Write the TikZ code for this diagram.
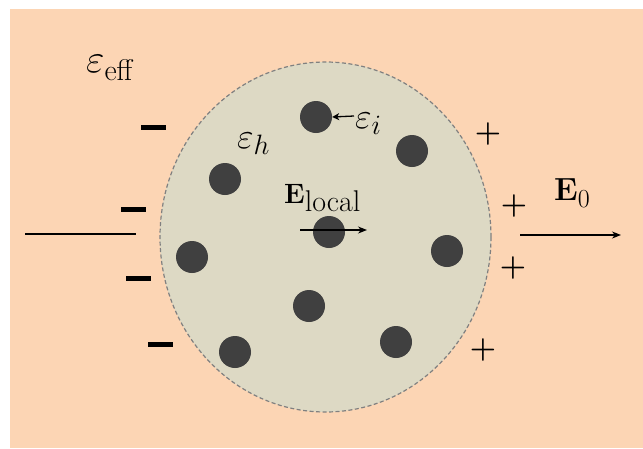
\RequirePackage{fix-cm}
\documentclass[tikz,border=0pt]{standalone}
\usetikzlibrary{arrows.meta}
\definecolor{peach}{HTML}{FCD5B4}
\definecolor{host}{HTML}{DDD9C4}
\definecolor{incl}{HTML}{404040}
\newcommand{\fsz}[1]{\fontsize{#1}{#1}\selectfont}
\begin{document}
\begin{tikzpicture}[x=1pt,y=-1pt,
  dot/.style={circle,fill=incl,minimum size=32pt,inner sep=0pt},
  minus/.style={rectangle,fill=black,minimum width=25pt,minimum height=5pt,inner sep=0pt},
  plus/.style={inner sep=0pt,font=\fsz{30}\bfseries},
  lab/.style={inner sep=0pt,anchor=base west},
  fieldarrow/.style={line width=1.3pt,-{Stealth[length=9pt,width=7pt]}}]
\useasboundingbox (0,0) rectangle (643,448);
\fill[white] (0,0) rectangle (643,448);
\fill[peach] (10,9) rectangle (643,448);
\fill[host] (325.5,237) ellipse [x radius=165.5,y radius=175];
\draw[gray,line width=1.2pt,dash pattern=on 4pt off 2.5pt] (325.5,237) ellipse [x radius=165.5,y radius=175];
% inclusions
\node[dot] (d1) at (316,117) {};
\node[dot] (d2) at (412,151) {};
\node[dot] (d3) at (225,179) {};
\node[dot] (d4) at (329,232) {};
\node[dot] (d5) at (192,257) {};
\node[dot] (d6) at (447,251) {};
\node[dot] (d7) at (309,306) {};
\node[dot] (d8) at (235,352) {};
\node[dot] (d9) at (396,342) {};
% labels
\node[lab] (eeff) at (86,72) {\fsz{40}$\varepsilon$\raisebox{-8pt}{\fsz{30}eff}};
\node[lab] (eh) at (237,148) {\fsz{36}$\varepsilon$\raisebox{-6pt}{\fsz{28}$h$}};
\node[lab] (ei) at (355,128) {\fsz{36}$\varepsilon$\raisebox{-6pt}{\fsz{28}$i$}};
\node[lab] (El) at (284,203) {\fsz{28}\textbf{E}\raisebox{-8pt}{\fsz{30}local}};
\node[lab] (E0) at (554,200) {\fsz{32}\textbf{E}\raisebox{-7pt}{\fsz{26}0}};
% arrows
\coordinate (ei0) at (354,116);
\draw[line width=1.3pt,-{Stealth[length=7pt,width=7pt,inset=2pt]}] (ei0) -- (d1.east);
\coordinate (la) at (300,230);
\coordinate (lb) at (367,230);
\draw[fieldarrow] (la) -- (lb);
\coordinate (ra) at (520,235);
\coordinate (rb) at (621,235);
\draw[fieldarrow] (ra) -- (rb);
\coordinate (lla) at (25,234);
\coordinate (llb) at (136,234);
\draw[line width=1.3pt] (lla) -- (llb);
% charges
\node[minus] (m1) at (153,127) {};
\node[minus] (m2) at (133,209) {};
\node[minus] (m3) at (138,278) {};
\node[minus] (m4) at (160,344) {};
\node[plus] (p1) at (488,134) {+};
\node[plus] (p2) at (514,206) {+};
\node[plus] (p3) at (513,268) {+};
\node[plus] (p4) at (483,350) {+};
\end{tikzpicture}
\end{document}
